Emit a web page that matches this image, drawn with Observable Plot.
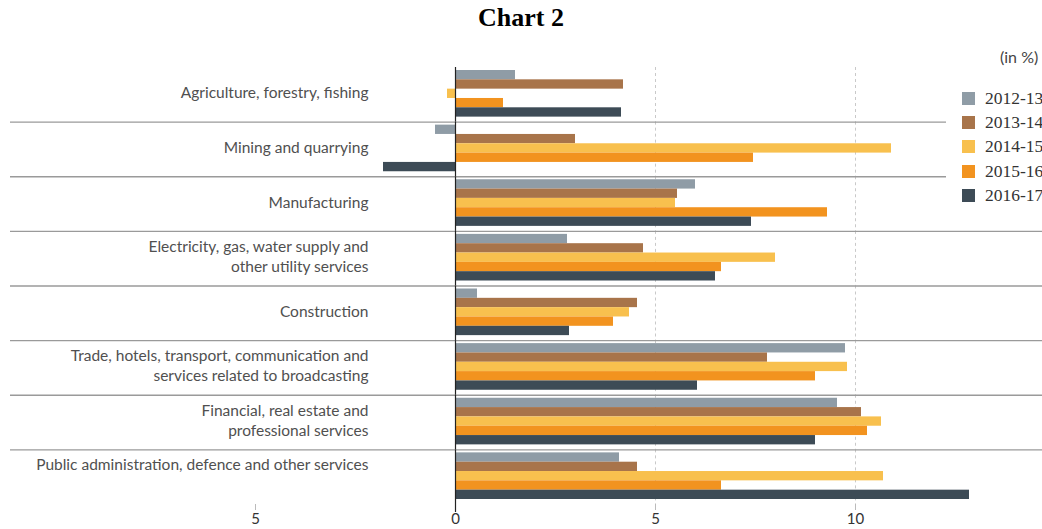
<!DOCTYPE html>
<html><head><meta charset="utf-8">
<script src="https://cdn.jsdelivr.net/npm/d3@7"></script>
<script src="https://cdn.jsdelivr.net/npm/@observablehq/plot@0.6"></script>
<style>
html,body{margin:0;padding:0;background:#fff;overflow:hidden;}
#wrap{position:relative;width:1042px;height:529px;overflow:hidden;}
#title{height:36px;line-height:36px;text-align:center;font-family:"Liberation Serif",serif;font-weight:bold;font-size:26px;color:#000;}
#chart{width:1042px;height:493px;}
#chart svg{max-width:none !important;display:block;}
#unit{position:absolute;left:1000px;top:47px;font-family:Lato,sans-serif;font-size:16px;color:#444;white-space:nowrap;}
#legend{position:absolute;left:946px;top:84px;width:110px;background:#fff;padding:2px 0 4px 16px;}
.row{display:flex;align-items:center;height:24.3px;font-family:"Liberation Serif",serif;font-size:17.5px;color:#333;white-space:nowrap;}
.sw{width:13px;height:13px;margin-right:10px;flex:none;}
</style></head><body>
<div id="wrap"><div id="title">Chart 2</div><div id="chart"></div><div id="unit">(in %)</div><div id="legend"></div></div>
<script>
const categories = ["Agriculture", "Mining", "Manufacturing", "Electricity", "Construction", "Trade", "Financial", "Public"];
const categoryLabels = [
  "Agriculture, forestry, fishing",
  "Mining and quarrying",
  "Manufacturing",
  "Electricity, gas, water supply and\nother utility services",
  "Construction",
  "Trade, hotels, transport, communication and\nservices related to broadcasting",
  "Financial, real estate and\nprofessional services",
  "Public administration, defence and other services"
];
const years = ["2012-13", "2013-14", "2014-15", "2015-16", "2016-17"];
const v2012_13 = [1.5, -0.5, 6.0, 2.8, 0.55, 9.75, 9.55, 4.1];
const v2013_14 = [4.2, 3.0, 5.55, 4.7, 4.55, 7.8, 10.15, 4.55];
const v2014_15 = [-0.2, 10.9, 5.5, 8.0, 4.35, 9.8, 10.65, 10.7];
const v2015_16 = [1.2, 7.45, 9.3, 6.65, 3.95, 9.0, 10.3, 6.65];
const v2016_17 = [4.15, -1.8, 7.4, 6.5, 2.85, 6.05, 9.0, 12.85];
const colors = ["#8f9ca6", "#a8744a", "#f8c04e", "#f2931f", "#3d4b56"];
const tickValues = [-5, 0, 5, 10];
const tickLabels = ["5", "0", "5", "10"];
const gridValues = [5, 10];

const series = [v2012_13, v2013_14, v2014_15, v2015_16, v2016_17];
const data = [];
categories.forEach((c, i) => years.forEach((y, j) => data.push({category: c, year: y, value: series[j][i]})));
const labelOf = new Map(categories.map((c, i) => [c, categoryLabels[i]]));
const tickLabelOf = new Map(tickValues.map((v, i) => [v, tickLabels[i]]));

const W = 1042, H = 493, MT = 31, MB = 25;
const bandH = (H - MT - MB) / categories.length;
const zeroPx = 455, pxPerUnit = 40;

const chart = Plot.plot({
  width: W, height: H,
  marginTop: MT, marginBottom: MB, marginLeft: 0, marginRight: 0,
  x: {domain: [-zeroPx / pxPerUnit, (W - zeroPx) / pxPerUnit], axis: null, label: null},
  y: {domain: years, padding: 0, round: false, insetTop: 3, insetBottom: 5, axis: null},
  fy: {domain: categories, padding: 0, round: false, axis: null},
  color: {domain: years, range: colors},
  style: {fontFamily: "Lato, sans-serif", fontSize: "14px", background: "#fff", overflow: "visible", maxWidth: "none"},
  marks: [
    Plot.ruleX(gridValues, {stroke: "#c9c9c9", strokeDasharray: "3,3"}),
    Plot.ruleY(categories.slice(1), {fy: d => d, y: null, dy: -bandH / 2, insetLeft: 10, stroke: "#9a9a9a", strokeWidth: 1.3}),
    Plot.barX(data, {fy: "category", y: "year", x: "value", fill: "year"}),
    Plot.ruleX([0], {stroke: "#222", strokeWidth: 1.2}),
    Plot.text(categories.slice(0, -1), {fy: d => d, text: d => labelOf.get(d), frameAnchor: "left", dx: 368, dy: -3, textAnchor: "end", lineHeight: 1.3, fill: "#505050", fontSize: 15.5}),
    Plot.text(categories.slice(-1), {fy: d => d, text: d => labelOf.get(d), frameAnchor: "left", dx: 368, dy: -12, textAnchor: "end", fill: "#505050", fontSize: 15.5}),
    Plot.axisX(tickValues, {tickFormat: d => tickLabelOf.get(d), tickSize: 0, tickPadding: 9, fontSize: 15, fill: "#333", label: null}),
    Plot.axisX([-5, 5, 10], {tickFormat: () => "", tickSize: 6, stroke: "#bbb", label: null}),
    Plot.axisX([0], {tickFormat: () => "", tickSize: 8, stroke: "#222", strokeWidth: 1.2, label: null})
  ]
});
document.getElementById("chart").appendChild(chart);

const legend = document.getElementById("legend");
years.forEach((y, i) => {
  const row = document.createElement("div");
  row.className = "row";
  const sw = document.createElement("span");
  sw.className = "sw";
  sw.style.background = colors[i];
  const t = document.createElement("span");
  t.textContent = y;
  row.appendChild(sw); row.appendChild(t);
  legend.appendChild(row);
});
</script>
</body></html>
